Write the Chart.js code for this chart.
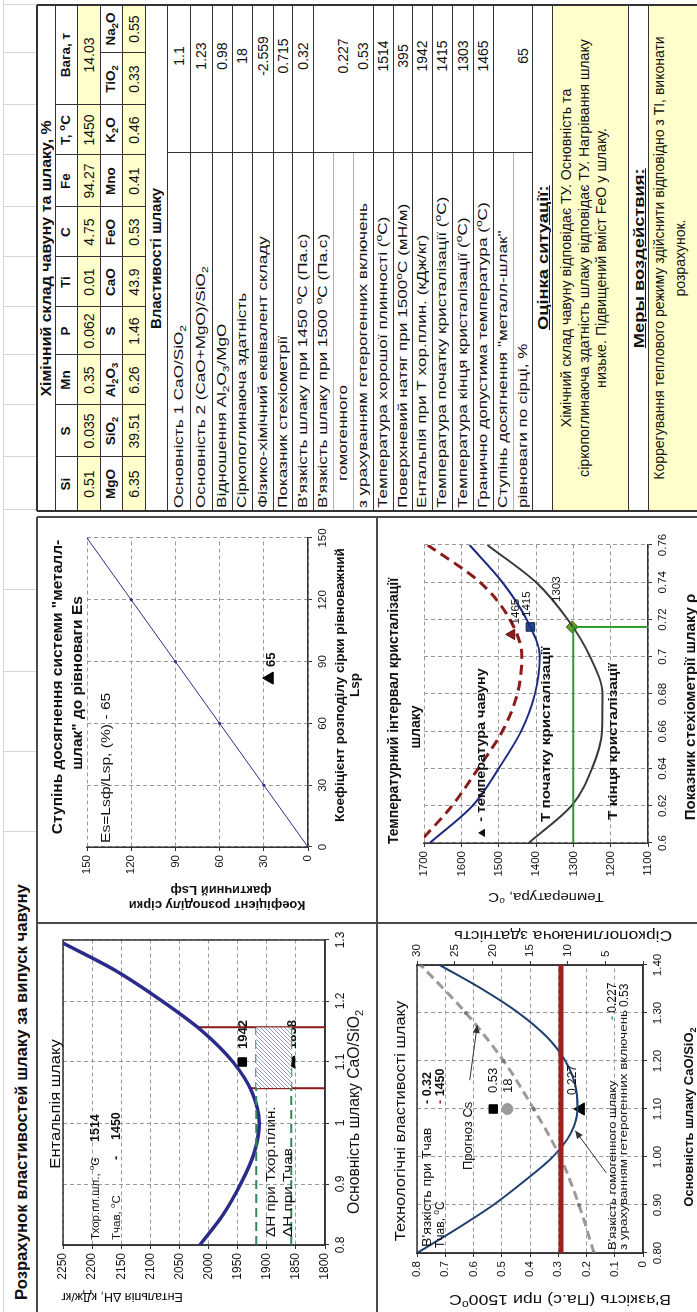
<!DOCTYPE html>
<html lang="uk">
<head>
<meta charset="utf-8">
<title>Розрахунок властивостей шлаку за випуск чавуну</title>
<script src="https://cdn.jsdelivr.net/npm/chart.js@4.4.1/dist/chart.umd.min.js"></script>
<style>
html,body{margin:0;padding:0;background:#fff;}
body{width:697px;height:1312px;overflow:hidden;position:relative;}
#land{position:absolute;left:0;top:0;width:1312px;height:697px;transform-origin:0 0;transform:translate(0px,1312px) rotate(-90deg);background:#fff;font-family:"Liberation Sans",Arial,Helvetica,sans-serif;color:#111;}
#land canvas{position:absolute;}
.ln{position:absolute;}
.tx{position:absolute;display:flex;align-items:center;white-space:nowrap;box-sizing:border-box;line-height:1;}
.tx span{display:inline-block;}
.tx sub{font-size:70%;vertical-align:-3px;line-height:0;}
.tx sup{font-size:70%;vertical-align:5px;line-height:0;}
</style>
</head>
<body>
<div id="land"></div>
<script>
// ================= DATA =================
// --- table: chemical composition ---
const chemHead1 = ['Si','S','Mn','P','Ti','C','Fe','T, <sup>o</sup>C','Вага, т'];
const chemVal1  = ['0.51','0.035','0.35','0.062','0.01','4.75','94.27','1450','14.03'];
const chemHead2 = ['MgO','SiO<sub>2</sub>','Al<sub>2</sub>O<sub>3</sub>','S','CaO','FeO','Mno','K<sub>2</sub>O','TiO<sub>2</sub>','Na<sub>2</sub>O'];
const chemVal2  = ['6.35','39.51','6.26','1.46','43.9','0.53','0.41','0.46','0.33','0.55'];
// --- table: slag properties ---
const propLabels = [
  'Основність 1 CaO/SiO<sub>2</sub>',
  'Основність 2 (CaO+MgO)/SiO<sub>2</sub>',
  'Відношення Al<sub>2</sub>O<sub>3</sub>/MgO',
  'Сіркопоглинаюча здатність',
  'Фізико-хімічний еквівалент складу',
  'Показник стехіометрії',
  'В\'язкість шлаку при 1450 <sup>o</sup>C (Па.с)',
  'В\'язкість шлаку при 1500 <sup>o</sup>C (Па.с)',
  'гомогенного',
  'з урахуванням гетерогенних включень',
  'Температура хорошої плинності (<sup>o</sup>C)',
  'Поверхневий натяг при 1500<sup>o</sup>C (мН/м)',
  'Ентальпія при Т хор.плин. (кДж/кг)',
  'Температура початку кристалізації (<sup>o</sup>C)',
  'Температура кінця кристалізації (<sup>o</sup>C)',
  'Гранично допустима температура (<sup>o</sup>C)',
  'Ступінь досягнення "металл-шлак"',
  'рівноваги по сірці, %'
];
const propValues = ['1.1','1.23','0.98','18','-2.559','0.715','0.32','','0.227','0.53','1514','395','1942','1415','1303','1465','','65'];
const evalTitle = 'Оцінка ситуації:';
const evalLines = ['Хімічний склад чавуну відповідає ТУ. Основність та','сіркопоглинаюча здатність шлаку відповідає ТУ. Нагрівання шлаку','низьке. Підвищений вміст FeO у шлаку.'];
const measTitle = 'Меры воздействия:';
const measLines = ['Коррегування теплового режиму здійснити відповідно з ТІ, виконати','розрахунок.'];

// --- enthalpy chart ---
const enthBasicity = [0.80,0.85,0.90,0.95,1.00,1.05,1.10,1.15,1.20,1.25,1.295];
const enthValues   = [2015,1975,1945,1922,1913,1925,1958,2010,2080,2160,2250];
const enthXTicks   = [0.8,0.9,1.0,1.1,1.2,1.3];
const enthXLabels  = ['0.8','0.9','1','1.1','1.2','1.3'];
const enthYTicks   = [1800,1850,1900,1950,2000,2050,2100,2150,2200,2250];
const enthBand     = [1.057,1.157];     // basicity band (red lines)
const enthBandTop  = [1929,2020];       // red lines start (on the curve)
const enthLevelPlin = 1918;             // ΔH при Тхор.плин.
const enthLevelChav = 1858;             // ΔH при Тчав
const enthPointX    = 1.1;
const enthPointPlin = 1942;
const enthPointChav = 1858;

// --- Es chart ---
const esLsp = [0,30,60,90,120,150];
const esLsf = [0,30,60,90,120,150];
const esTicks = [0,30,60,90,120,150];
const esPoint = [82,26];
const esValue = '65';

// --- temperature chart ---
const rho      = [0.60,0.62,0.64,0.66,0.68,0.70,0.72,0.74,0.76];
const tEnd     = [1420,1305,1250,1223,1222,1255,1315,1400,1530];
const tStart   = [1685,1570,1500,1440,1403,1390,1425,1490,1578];
const rhoLim   = [0.603,0.62,0.64,0.66,0.68,0.70,0.72,0.74,0.76];
const tLimit   = [1700,1625,1555,1490,1450,1438,1470,1550,1690];
const tempXTicks  = [0.6,0.62,0.64,0.66,0.68,0.70,0.72,0.74,0.76];
const tempXLabels = ['0.6','0.62','0.64','0.66','0.68','0.7','0.72','0.74','0.76'];
const tempYTicks  = [1100,1200,1300,1400,1500,1600,1700];
const rhoSlag  = 0.716;
const tCrStart = 1415, tCrEnd = 1303, tIron = 1465, rhoIron = 0.712;

// --- viscosity chart ---
const viscB     = [0.80,0.85,0.90,0.95,1.00,1.05,1.10,1.15,1.20,1.25,1.30,1.35,1.40];
const viscHomog = [0.80,0.66,0.53,0.42,0.32,0.255,0.232,0.24,0.275,0.34,0.44,0.57,0.72];
const csB       = [0.80,0.90,1.00,1.10,1.20,1.30,1.40];
const csVal     = [6.5,8.5,11,14.5,18.5,23.5,29.5];
const viscXTicks  = [0.8,0.9,1.0,1.1,1.2,1.3,1.4];
const viscXLabels = ['0.80','0.90','1.00','1.10','1.20','1.30','1.40'];
const viscYTicks  = [0,0.1,0.2,0.3,0.4,0.5,0.6,0.7,0.8];
const viscYLabels = ['0','0.1','0.2','0.3','0.4','0.5','0.6','0.7','0.8'];
const csTicks     = [0,5,10,15,20,25,30];
const csLabels    = ['','5','10','15','20','25','30'];
const viscIron    = 0.29;   // red line (viscosity at Tчав)
const viscPointB  = 1.1, viscPointHet = 0.53, viscPointCs = 18, viscPointHom = 0.22;

// ================= PAGE =================
const FONT = '"Liberation Sans", Arial, Helvetica, sans-serif';
const land = document.getElementById('land');
function ln(x0,y0,x1,y1,color,w){
  const d=document.createElement('div'); d.className='ln';
  w = w||1;
  if (y0===y1){ d.style.left=x0+'px'; d.style.top=(y0-w/2)+'px'; d.style.width=(x1-x0)+'px'; d.style.height=w+'px'; }
  else { d.style.left=(x0-w/2)+'px'; d.style.top=y0+'px'; d.style.width=w+'px'; d.style.height=(y1-y0)+'px'; }
  d.style.background=color; land.appendChild(d); return d;
}
function rect(x0,y0,x1,y1,color){ const d=document.createElement('div'); d.className='ln'; d.style.left=x0+'px'; d.style.top=y0+'px'; d.style.width=(x1-x0)+'px'; d.style.height=(y1-y0)+'px'; d.style.background=color; land.appendChild(d); }
function tx(x0,y0,x1,y1,html,o){
  o=o||{};
  const d=document.createElement('div'); d.className='tx';
  d.style.left=x0+'px'; d.style.top=y0+'px'; d.style.width=(x1-x0)+'px'; d.style.height=(y1-y0)+'px';
  d.style.justifyContent = o.align==='left'?'flex-start':o.align==='right'?'flex-end':'center';
  d.style.fontSize=(o.size||12.5)+'px';
  if (o.bold) d.style.fontWeight='bold';
  if (o.pad) d.style.padding='0 '+o.pad+'px';
  if (o.bg) d.style.background=o.bg;
  const s=document.createElement('span'); s.innerHTML=html;
  if (o.u) s.style.textDecoration='underline';
  if (o.sx){ s.style.transform='scaleX('+o.sx+')'; s.style.transformOrigin = o.align==='left'?'0 50%':o.align==='right'?'100% 50%':'50% 50%'; }
  d.appendChild(s);
  land.appendChild(d); return d;
}

// sheet gridlines in the title row
const sheetCols = [480,560,640,722,802,855,907,957,1005,1055,1105,1157,1207,1259,1307];
ln(0,3,1312,3,'#d4d4d4',1);
sheetCols.forEach(x=>ln(x,3,x,37,'#d4d4d4',1));
tx(10,8,455,36,'Розрахунок властивостей шлаку за випуск чавуну',{align:'left',size:16,bold:true,bg:'#fff',pad:2,sx:1.04});

// ---------- table ----------
const T0=801, T1=1307;
const colX = [801,855,907,957,1005,1055,1105,1157,1207,1259,1307];
const rowY = [37,55,77,100,122,145];
const YEL = '#FFFFCC';
rect(T0,rowY[2],T1,rowY[3],YEL);
rect(T0,rowY[4],T1,rowY[5],YEL);
tx(T0,rowY[0],T1,rowY[1],'Хімічний склад чавуну та шлаку, %',{bold:true,size:14.5,sx:1.1});
for (let i=0;i<9;i++){
  const x0=colX[i], x1= i===8?colX[10]:colX[i+1];
  tx(x0,rowY[1],x1,rowY[2],chemHead1[i],{bold:true,size:13.5});
  tx(x0,rowY[2],x1,rowY[3],chemVal1[i],{size:14});
}
for (let i=0;i<10;i++){
  tx(colX[i],rowY[3],colX[i+1],rowY[4],chemHead2[i],{bold:true,size:13.5});
  tx(colX[i],rowY[4],colX[i+1],rowY[5],chemVal2[i],{size:14});
}
const DK='#333';
for (let r=1;r<rowY.length;r++) ln(T0,rowY[r],T1,rowY[r],DK,1);
for (let i=1;i<10;i++){
  if (i===9) ln(colX[i],rowY[3],colX[i],rowY[5],DK,1);
  else ln(colX[i],rowY[1],colX[i],rowY[5],DK,1);
}
// properties
const propY = [167,190,212,232,252,273,292,313,333,353,373,393,412,432,452,473,493,513,532];
const VAL0 = 1159;
tx(T0,145,T1,167,'Властивості шлаку',{bold:true,size:14.5,sx:1.03});
for (let i=0;i<propLabels.length;i++){
  const y0=propY[i], y1=propY[i+1];
  const indent = i===8 ? 30 : 3;
  tx(T0+indent,y0,VAL0+60,y1,propLabels[i],{align:'left',size:13.5,sx:1.27});
  if (propValues[i]) tx(1205,y0,T1,y1,propValues[i],{size:14});
}
const lightRows = [8,9,17];
propY.forEach((y,i)=>{
  if (lightRows.includes(i)) { ln(T0,y,VAL0,y,'#b0b0b0',1); }
  else ln(T0,y,T1,y,DK,1);
});
ln(VAL0,167,VAL0,532,DK,1);
// evaluation
tx(T0,532,T1,552,evalTitle,{bold:true,u:true,size:15,sx:1.22});
rect(T0,552,T1,628,YEL);
evalLines.forEach((t,i)=>tx(T0,557+i*17.7,T1,575+i*17.7,t,{size:14.2}));
ln(T0,552,T1,552,DK,1); ln(T0,628,T1,628,DK,1);
tx(T0,628,T1,648,measTitle,{bold:true,u:true,size:15,sx:1.22});
rect(T0,648,T1,697,YEL);
measLines.forEach((t,i)=>tx(T0,649+i*21,T1,668+i*21,t,{size:14}));
ln(T0,648,T1,648,DK,1);
// outer frame of table
ln(T0,37,T0,697,DK,1.5); ln(T1,37,T1,697,DK,1.5); ln(T0,37,T1,37,DK,1.5);

// ---------- chart panels ----------
function addCanvas(id,x,y,w,h){ const c=document.createElement('canvas'); c.id=id; c.width=w; c.height=h; c.style.left=x+'px'; c.style.top=y+'px'; c.style.width=w+'px'; c.style.height=h+'px'; land.appendChild(c); return c; }
const cEnth = addCanvas('cEnth',0,37,389,340);
const cVisc = addCanvas('cVisc',0,377,389,320);
const cEs   = addCanvas('cEs',389,37,406,340);
const cTemp = addCanvas('cTemp',389,377,406,320);
const PB='#4a4a4a';
ln(0,37,795,37,PB,2);
ln(389,37,389,697,PB,2);
ln(0,377,795,377,PB,2);
ln(795,37,795,697,PB,2);

// ================= CHART HELPERS =================
Chart.defaults.font.family = FONT;
Chart.defaults.color = '#111';
function mkScale(o){
  return {
    type:'linear', position:o.pos, min:o.min, max:o.max,
    afterBuildTicks: s => { s.ticks = o.ticks.map(v=>({value:v})); },
    afterFit: s => { if (o.axis==='x') s.height=o.fit; else s.width=o.fit; },
    ticks:{autoSkip:false, maxRotation:0, minRotation:0, padding:4, color:'#111', font:{size:o.size||12, family:FONT}, callback:(v,i)=> o.labels ? o.labels[i] : String(o.ticks[i])},
    grid:{display:true, drawOnChartArea:o.area!==false, color:'#9a9a9a', lineWidth:1, tickLength:4, tickColor:'#333', tickWidth:1},
    border:{display:true, color:'#333', width:1.5, dash:[4,3]}
  };
}
function segsDraw(ctx,x,y,segs,o){
  const size=o.size||12;
  const parts=segs.map(s=>{
    if (typeof s==='string') s={t:s};
    const fs=(s.sub||s.sup)?size*0.7:size;
    const b=(s.bold!==undefined?s.bold:o.bold)?'bold ':'';
    ctx.font=b+fs+'px '+FONT;
    return {s,fs,b,w:ctx.measureText(s.t).width};
  });
  const total=parts.reduce((a,p)=>a+p.w,0);
  ctx.save(); ctx.translate(x,y); if (o.rot) ctx.rotate(o.rot); if (o.sx) ctx.scale(o.sx,1);
  let cx=o.align==='center'?-total/2:o.align==='right'?-total:0;
  ctx.textBaseline='alphabetic';
  for (const p of parts){
    ctx.font=p.b+p.fs+'px '+FONT;
    ctx.fillStyle=p.s.color||o.color||'#111';
    const dy=p.s.sub?size*0.25:p.s.sup?-size*0.42:0;
    ctx.fillText(p.s.t,cx,dy); cx+=p.w;
  }
  ctx.restore();
}
function arrowDraw(ctx,x1,y1,x2,y2,color,w){
  ctx.save(); ctx.strokeStyle=color; ctx.fillStyle=color; ctx.lineWidth=w;
  ctx.beginPath(); ctx.moveTo(x1,y1); ctx.lineTo(x2,y2); ctx.stroke();
  const a=Math.atan2(y2-y1,x2-x1), L=8, W=3.5;
  ctx.beginPath(); ctx.moveTo(x2,y2);
  ctx.lineTo(x2-L*Math.cos(a)+W*Math.sin(a), y2-L*Math.sin(a)-W*Math.cos(a));
  ctx.lineTo(x2-L*Math.cos(a)-W*Math.sin(a), y2-L*Math.sin(a)+W*Math.cos(a));
  ctx.closePath(); ctx.fill(); ctx.restore();
}
function pos(chart,it){
  if (it.data){ const ys=chart.scales[it.axis||'y']; return [chart.scales.x.getPixelForValue(it.data[0])+(it.dx||0), ys.getPixelForValue(it.data[1])+(it.dy||0)]; }
  return it.at;
}
function textLayer(items, frame){
  const draw=(chart,under)=>{
    const ctx=chart.ctx;
    items.filter(i=>!!i.under===under).forEach(it=>{
      if (it.arrow){
        const ys=chart.scales[it.axis||'y'], xs=chart.scales.x;
        arrowDraw(ctx,xs.getPixelForValue(it.arrow[0]),ys.getPixelForValue(it.arrow[1]),xs.getPixelForValue(it.arrow[2]),ys.getPixelForValue(it.arrow[3]),it.color||'#333',it.w||1);
        return;
      }
      const p=pos(chart,it); segsDraw(ctx,p[0],p[1],it.segs,it);
    });
  };
  return {
    id:'textLayer',
    beforeDatasetsDraw(chart){
      if (frame){ const a=chart.chartArea, ctx=chart.ctx; ctx.save(); ctx.strokeStyle='#333'; ctx.lineWidth=1.5; ctx.strokeRect(a.left,a.top,a.right-a.left,a.bottom-a.top); ctx.restore(); }
      draw(chart,true);
    },
    afterDatasetsDraw(chart){ draw(chart,false); }
  };
}
function baseOptions(pad,scales){
  return {responsive:false, maintainAspectRatio:false, devicePixelRatio:1, animation:false, events:[],
    layout:{padding:pad}, plugins:{legend:{display:false}, tooltip:{enabled:false}, title:{display:false}}, scales};
}
function xy(xs,ys){ return xs.map((x,i)=>({x, y:ys[i]})); }
function hatchPattern(){
  const c=document.createElement('canvas'); c.width=4; c.height=4; const g=c.getContext('2d');
  g.fillStyle='#fff'; g.fillRect(0,0,4,4); g.strokeStyle='#9090c0'; g.lineWidth=0.9;
  g.beginPath(); g.moveTo(0,4); g.lineTo(4,0); g.moveTo(-1,1); g.lineTo(1,-1); g.moveTo(3,5); g.lineTo(5,3); g.stroke();
  return g.createPattern(c,'repeat');
}
const HALF = -Math.PI/2;
const sup0 = {t:'o',sup:true};

// ================= ENTHALPY =================
new Chart(cEnth,{
  type:'line',
  data:{datasets:[
    {data:xy([enthBand[0],enthBand[1]],[enthLevelPlin,enthLevelPlin]), borderWidth:0, pointRadius:0, fill:'+1', backgroundColor:hatchPattern()},
    {data:xy([enthBand[0],enthBand[1]],[enthLevelChav,enthLevelChav]), borderWidth:0, pointRadius:0, fill:false},
    {data:xy([0.8,enthBand[1]],[enthLevelPlin,enthLevelPlin]), borderColor:'#2E8B57', borderWidth:2, borderDash:[9,5], pointRadius:0, fill:false},
    {data:xy([0.8,enthBand[1]],[enthLevelChav,enthLevelChav]), borderColor:'#2E8B57', borderWidth:2, borderDash:[9,5], pointRadius:0, fill:false},
    {data:xy(enthBasicity,enthValues), borderColor:'#2B2B8C', borderWidth:3.5, pointRadius:0, cubicInterpolationMode:'monotone', fill:false},
    {data:xy([enthBand[0],enthBand[0]],[enthBandTop[0],1800]), borderColor:'#8B1A1A', borderWidth:2, pointRadius:0, fill:false},
    {data:xy([enthBand[1],enthBand[1]],[enthBandTop[1],1800]), borderColor:'#8B1A1A', borderWidth:2, pointRadius:0, fill:false},
    {data:[{x:enthPointX,y:enthPointPlin}], showLine:false, pointStyle:'rect', pointRadius:6, backgroundColor:'#000', borderColor:'#000'},
    {data:[{x:enthPointX,y:enthPointChav}], showLine:false, pointStyle:'triangle', pointRadius:7, backgroundColor:'#000', borderColor:'#000'}
  ]},
  options: baseOptions({left:0,top:26,right:17,bottom:0},{
    x: mkScale({axis:'x',min:0.8,max:1.3,ticks:enthXTicks,labels:enthXLabels,fit:52,size:12}),
    y: mkScale({axis:'y',min:1800,max:2250,ticks:enthYTicks,fit:67,size:12})
  }),
  plugins:[textLayer([
    {at:[208,23], segs:['Ентальпія шлаку'], size:15.5, align:'center', sx:1.07},
    {at:[72,62], segs:['Тхор.пл.шл., ',sup0,'C'], size:11.5},
    {at:[150,62], segs:['-'], size:12.5, bold:true},
    {at:[170,62], segs:['1514'], size:12.5, bold:true},
    {at:[72,83], segs:['Тчав, ',sup0,'C'], size:11.5},
    {at:[152,83], segs:['-'], size:12.5, bold:true},
    {at:[172,83], segs:['1450'], size:12.5, bold:true},
    {at:[75,238], segs:['ΔH при Тхор.плин.'], size:12.5, sx:1.22},
    {at:[75,255], segs:['ΔH при Тчав'], size:12.5, sx:1.22},
    {data:[enthPointX,enthPointPlin], dx:13, dy:5, segs:['1942'], size:13, bold:true},
    {data:[enthPointX,enthPointChav], dx:13, dy:5, segs:['1858'], size:13, bold:true, under:true},
    {at:[200,322], segs:['Основність шлаку CaO/SiO',{t:'2',sub:true}], size:15.7, align:'center'},
    {at:[19,85], rot:HALF, segs:['Ентальпія ΔH, кДж/кг'], size:12.5, align:'center'}
  ], true)]
});

// ================= Es =================
new Chart(cEs,{
  type:'line',
  data:{datasets:[
    {data:xy(esLsp,esLsf), borderColor:'#2B2B8C', borderWidth:1, pointRadius:1.5, pointBackgroundColor:'#2B2B8C', pointBorderWidth:0, fill:false},
    {data:[{x:esPoint[0],y:esPoint[1]}], showLine:false, pointStyle:'triangle', pointRadius:7, backgroundColor:'#000', borderColor:'#000'}
  ]},
  options: baseOptions({left:0,top:50,right:21,bottom:0},{
    x: mkScale({axis:'x',min:0,max:150,ticks:esTicks,fit:69,size:11.5}),
    y: mkScale({axis:'y',min:0,max:150,ticks:esTicks,fit:76,size:11.5})
  }),
  plugins:[textLayer([
    {at:[236,25], segs:['Ступінь досягнення системи "металл-'], size:15.5, bold:true, align:'center'},
    {at:[240,45], segs:['шлак" до рівноваги Es'], size:15.5, bold:true, align:'center'},
    {at:[80,73], segs:['Es=Lsф/Lsp, (%) - 65'], size:13, sx:1.2},
    {data:esPoint, dx:11, dy:5, segs:[esValue], size:13, bold:true},
    {at:[238,307], segs:['Коефіцієнт розподілу сірки рівноважний'], size:13.5, bold:true, align:'center'},
    {at:[238,322], segs:['Lsp'], size:13.5, bold:true, align:'center'},
    {at:[22,180], rot:HALF, segs:['Коефіцієнт розподілу сірки'], size:13, bold:true, align:'center'},
    {at:[37,184], rot:HALF, segs:['фактичний Lsф'], size:13, bold:true, align:'center'}
  ], false)]
});

// ================= TEMPERATURE =================
new Chart(cTemp,{
  type:'line',
  data:{datasets:[
    {data:xy([0.6,rhoSlag,rhoSlag],[1300,1300,1100]), borderColor:'#2E9B2E', borderWidth:2, pointRadius:0, fill:false},
    {data:xy(rho,tEnd), borderColor:'#3a3a3a', borderWidth:2, pointRadius:0, cubicInterpolationMode:'monotone', fill:false},
    {data:xy(rho,tStart), borderColor:'#1E2A80', borderWidth:2, pointRadius:0, cubicInterpolationMode:'monotone', fill:false},
    {data:xy(rhoLim,tLimit), borderColor:'#8B1A1A', borderWidth:3, borderDash:[10,6], pointRadius:0, cubicInterpolationMode:'monotone', fill:false},
    {data:[{x:rhoSlag,y:tCrStart}], showLine:false, pointStyle:'rect', pointRadius:6, backgroundColor:'#1F4E8C', borderColor:'#10203a', borderWidth:1},
    {data:[{x:rhoIron,y:tIron}], showLine:false, pointStyle:'triangle', pointRadius:6, backgroundColor:'#8B1A1A', borderColor:'#5a0f0f', borderWidth:1},
    {data:[{x:rhoSlag,y:tCrEnd}], showLine:false, pointStyle:'rectRot', pointRadius:6, backgroundColor:'#6E9E2E', borderColor:'#3a6018', borderWidth:1}
  ]},
  options: baseOptions({left:0,top:47,right:28,bottom:0},{
    x: mkScale({axis:'x',min:0.6,max:0.76,ticks:tempXTicks,labels:tempXLabels,fit:49,size:11.5}),
    y: mkScale({axis:'y',min:1100,max:1700,ticks:tempYTicks,fit:80,size:11.5})
  }),
  plugins:[textLayer([
    {at:[212,21], segs:['Температурний інтервал кристалізації'], size:14, bold:true, align:'center'},
    {at:[196,43], segs:['шлаку'], size:14, bold:true, align:'center'},
    {at:[83,108], segs:['▲ - температура чавуну'], size:12, bold:true, sx:1.2},
    {at:[101,173], segs:['T початку кристалізації'], size:12, bold:true, sx:1.27},
    {at:[103,240], segs:['T кінця кристалізації'], size:12, bold:true, sx:1.28},
    {data:[rhoSlag,tCrStart], dx:10, dy:0, segs:['1415'], size:11.5},
    {data:[rhoIron,tIron], dx:10, dy:7, segs:['1465'], size:11.5},
    {data:[rhoSlag,tCrEnd], dx:25, dy:-12, segs:['1303'], size:11.5},
    {at:[30,169], rot:HALF, segs:['Температура, ',sup0,'C'], size:13, align:'center', sx:1.15},
    {at:[216,318], segs:['Показник стехіометрії шлаку ρ'], size:14, bold:true, align:'center', sx:1.07}
  ], false)]
});

// ================= VISCOSITY =================
new Chart(cVisc,{
  type:'line',
  data:{datasets:[
    {data:xy([0.8,1.4],[viscIron,viscIron]), borderColor:'#A01E1E', borderWidth:5, pointRadius:0, fill:false},
    {data:xy(csB,csVal), yAxisID:'y2', borderColor:'#9a9a9a', borderWidth:3, borderDash:[9,5], pointRadius:2, pointBackgroundColor:'#777', pointBorderWidth:0, cubicInterpolationMode:'monotone', fill:false},
    {data:xy(viscB,viscHomog), borderColor:'#1F3F6F', borderWidth:2, pointRadius:0, cubicInterpolationMode:'monotone', fill:false},
    {data:[{x:viscPointB,y:viscPointHet}], showLine:false, pointStyle:'rect', pointRadius:6, backgroundColor:'#000', borderColor:'#000'},
    {data:[{x:viscPointB,y:viscPointCs}], yAxisID:'y2', showLine:false, pointStyle:'circle', pointRadius:5.5, backgroundColor:'#9a9a9a', borderColor:'#9a9a9a'},
    {data:[{x:viscPointB,y:viscPointHom}], showLine:false, pointStyle:'triangle', pointRadius:7, backgroundColor:'#000', borderColor:'#000'}
  ]},
  options: baseOptions({left:0,top:40,right:0,bottom:0},{
    x: mkScale({axis:'x',min:0.8,max:1.4,ticks:viscXTicks,labels:viscXLabels,fit:54,size:11.5}),
    y: mkScale({axis:'y',pos:'left',min:0,max:0.8,ticks:viscYTicks,labels:viscYLabels,fit:59,size:11.5}),
    y2: mkScale({axis:'y',pos:'right',min:0,max:30,ticks:csTicks,labels:csLabels,fit:42,size:11.5,area:false})
  }),
  plugins:[textLayer([
    {at:[191,28], segs:['Технологічні властивості шлаку'], size:15, align:'center', sx:1.1},
    {at:[65,54], segs:['В\'язкість при Тчав'], size:12, sx:1.18},
    {at:[208,54], segs:['- 0.32'], size:12.5, bold:true},
    {at:[64,67], segs:['Тчав, ',sup0,'C'], size:12},
    {at:[208,67], segs:[{t:'- ',color:'#A01E1E'},'1450'], size:12.5, bold:true},
    {at:[142,95], segs:['Прогноз Cs'], size:13},
    {arrow:[1.16,23.0,1.275,22.0], axis:'y2', color:'#333', w:1},
    {data:[viscPointB,viscPointHet], dx:16, dy:4, segs:['0.53'], size:13},
    {data:[viscPointB,viscPointCs], axis:'y2', dx:16, dy:5, segs:['18'], size:13},
    {data:[viscPointB,viscPointHom], dx:14, dy:-5, segs:['0.227'], size:12},
    {arrow:[0.967,0.13,1.055,0.24], color:'#333', w:1},
    {at:[62,239], segs:['В\'язкість гомогенного шлаку'], size:10, sx:1.3},
    {at:[292,239], segs:[{t:'- ',color:'#2aa3b5',bold:true},'0.227'], size:12},
    {at:[62,250], segs:['з урахуванням гетерогенних включень'], size:10, sx:1.35},
    {at:[305,251], segs:['0.53'], size:12},
    {at:[195,316], segs:['Основність шлаку CaO/SiO',{t:'2',sub:true}], size:13, bold:true, align:'center'},
    {at:[17,183], rot:HALF, segs:['В\'язкість (Па.с) при 1500',sup0,'C'], size:14.5, align:'center', sx:1.22},
    {at:[381,186], rot:HALF, segs:['Сіркопоглинаюча здатність'], size:14.5, align:'center', sx:1.2}
  ], true)]
});
</script>
</body>
</html>
